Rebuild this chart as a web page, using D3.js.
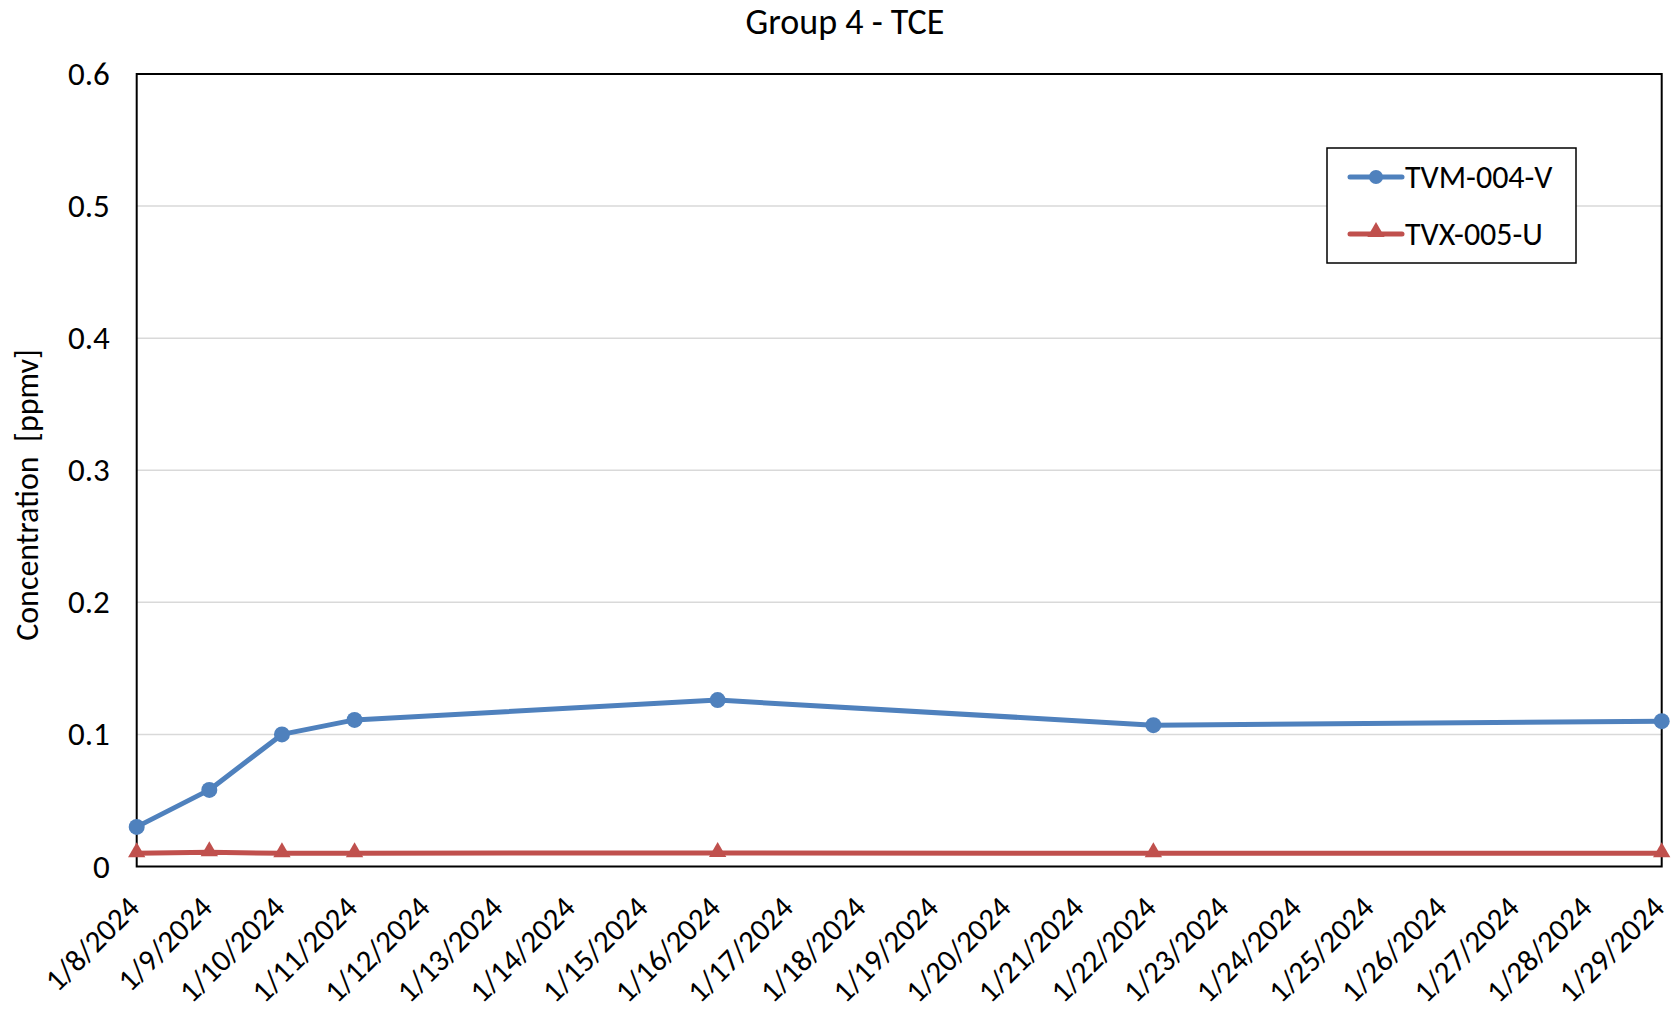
<!DOCTYPE html>
<html>
<head>
<meta charset="utf-8">
<script src="https://cdn.jsdelivr.net/npm/d3@7/dist/d3.min.js"></script>
<style>
  html, body { margin: 0; padding: 0; background: #fff; }
  svg { display: block; font-family: Carlito, Calibri, Lato, sans-serif; }
</style>
</head>
<body>
<svg id="chart" width="1674" height="1010"></svg>
<script>
// Sample dates and measured TCE concentrations (ppmv)
const sampleDates = ["2024-01-08", "2024-01-09", "2024-01-10", "2024-01-11", "2024-01-16", "2024-01-22", "2024-01-29"];
const tvm004v = [0.030, 0.058, 0.100, 0.111, 0.126, 0.107, 0.110];
const tvx005u = [0.010, 0.0107, 0.010, 0.010, 0.0103, 0.010, 0.010];
const yTicks = [0, 0.1, 0.2, 0.3, 0.4, 0.5, 0.6];
const seriesNames = ["TVM-004-V", "TVX-005-U"];
const chartTitle = "Group 4 - TCE";
const yTitle = "Concentration  [ppmv]";

const parse = d3.utcParse("%Y-%m-%d");
const fmt = d3.utcFormat("%-m/%-d/%Y");
const dates = sampleDates.map(parse);

const svg = d3.select("#chart");
const M = { left: 136.7, right: 1661.7, top: 74, bottom: 866.5 };
const FONT = "Carlito, Calibri, Lato, sans-serif";
const FS = 33;

const x = d3.scaleUtc().domain([dates[0], dates[dates.length - 1]]).range([M.left, M.right]);
const y = d3.scaleLinear().domain([0, 0.6]).range([M.bottom, M.top]);

const blue = "#4F81BD", red = "#C0504D";

// Horizontal gridlines
svg.append("g").selectAll("line").data(yTicks.filter(t => t > 0 && t < 0.6)).join("line")
  .attr("x1", M.left).attr("x2", M.right)
  .attr("y1", d => y(d)).attr("y2", d => y(d))
  .attr("stroke", "#D9D9D9").attr("stroke-width", 1.5);

// Y axis tick labels
const yAxis = d3.axisLeft(y).tickValues(yTicks).tickFormat(d => d === 0 ? "0" : d3.format(".1f")(d)).tickSize(0).tickPadding(27);
const gy = svg.append("g").attr("transform", `translate(${M.left},0)`).call(yAxis);
gy.select(".domain").remove();
gy.selectAll("text").attr("font-size", FS).attr("fill", "#000").attr("font-family", FONT);

// X axis: daily tick labels, rotated
const days = d3.utcDay.range(dates[0], d3.utcDay.offset(dates[dates.length - 1], 1));
const xAxis = d3.axisBottom(x).tickValues(days).tickFormat(fmt).tickSize(0);
const gx = svg.append("g").attr("transform", `translate(0,${M.bottom})`).call(xAxis);
gx.select(".domain").remove();
gx.selectAll("text")
  .attr("font-size", 31).attr("fill", "#000").attr("font-family", FONT)
  .attr("text-anchor", "end")
  .attr("dy", null).attr("y", 0)
  .attr("transform", "translate(4,43) rotate(-45)");

// Plot frame
svg.append("rect")
  .attr("x", M.left).attr("y", M.top)
  .attr("width", M.right - M.left).attr("height", M.bottom - M.top)
  .attr("fill", "none").attr("stroke", "#000").attr("stroke-width", 2);

const line = d3.line().x((d, i) => x(dates[i])).y(d => y(d));

// TVX-005-U series (triangles)
svg.append("path").datum(tvx005u).attr("d", line)
  .attr("fill", "none").attr("stroke", red).attr("stroke-width", 5).attr("stroke-linejoin", "round");
const tri = d3.symbol().type(d3.symbolTriangle).size(130);
svg.append("g").selectAll("path").data(tvx005u).join("path")
  .attr("d", tri).attr("fill", red)
  .attr("transform", (d, i) => `translate(${x(dates[i])},${y(d) - 1})`);

// TVM-004-V series (circles)
svg.append("path").datum(tvm004v).attr("d", line)
  .attr("fill", "none").attr("stroke", blue).attr("stroke-width", 5).attr("stroke-linejoin", "round");
svg.append("g").selectAll("circle").data(tvm004v).join("circle")
  .attr("cx", (d, i) => x(dates[i])).attr("cy", d => y(d)).attr("r", 8).attr("fill", blue);

// Title
svg.append("text").attr("x", 845).attr("y", 34).attr("text-anchor", "middle")
  .attr("font-size", 36).attr("fill", "#000").text(chartTitle);

// Y axis title
svg.append("text").attr("transform", "translate(38,495) rotate(-90)").attr("text-anchor", "middle")
  .attr("font-size", 32).attr("fill", "#000").style("white-space", "pre").text(yTitle);

// Legend
const lg = svg.append("g");
lg.append("rect").attr("x", 1327).attr("y", 148).attr("width", 249).attr("height", 115)
  .attr("fill", "#fff").attr("stroke", "#000").attr("stroke-width", 1.5);
const legendRows = [
  { name: seriesNames[0], color: blue, yPos: 177, shape: "circle" },
  { name: seriesNames[1], color: red, yPos: 234, shape: "triangle" }
];
legendRows.forEach(r => {
  lg.append("line").attr("x1", 1350).attr("x2", 1402).attr("y1", r.yPos).attr("y2", r.yPos)
    .attr("stroke", r.color).attr("stroke-width", 5).attr("stroke-linecap", "round");
  if (r.shape === "circle") {
    lg.append("circle").attr("cx", 1376).attr("cy", r.yPos).attr("r", 7).attr("fill", r.color);
  } else {
    lg.append("path").attr("d", tri).attr("fill", r.color).attr("transform", `translate(1376,${r.yPos - 2})`);
  }
  lg.append("text").attr("x", 1405).attr("y", r.yPos + 11).attr("font-size", 32).attr("fill", "#000").text(r.name);
});
</script>
</body>
</html>
